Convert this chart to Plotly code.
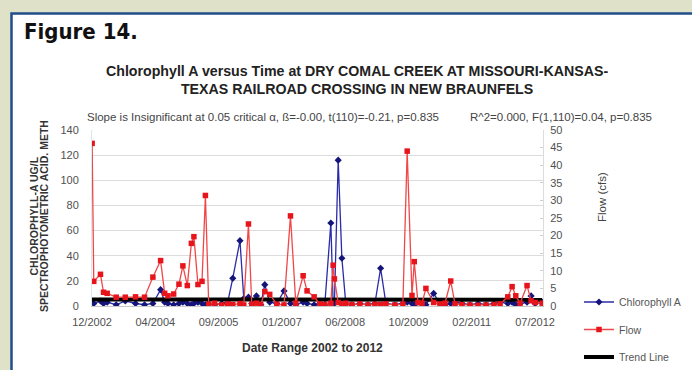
import plotly.graph_objects as go

# ---------------- data ----------------
sample_dates = [
    "2002-12-02", "2002-12-15", "2003-02-06", "2003-03-02", "2003-03-31", "2003-06-10",
    "2003-08-21", "2003-11-10", "2004-01-20", "2004-03-26", "2004-05-26", "2004-06-27",
    "2004-07-23", "2004-09-06", "2004-10-18", "2004-11-18", "2004-12-23", "2005-01-24",
    "2005-02-13", "2005-03-17", "2005-04-18", "2005-05-15", "2005-06-10", "2005-07-27",
    "2005-09-21", "2005-11-07", "2005-12-17", "2006-02-12", "2006-03-14", "2006-04-20",
    "2006-05-16", "2006-06-22", "2006-07-26", "2006-08-27", "2006-10-05", "2006-11-30",
    "2007-01-26", "2007-03-18", "2007-04-29", "2007-06-26", "2007-07-27", "2007-09-21",
    "2007-11-05", "2007-12-14", "2008-01-31", "2008-02-18", "2008-02-28", "2008-03-29",
    "2008-04-27", "2008-05-28", "2008-07-15", "2008-09-16", "2008-11-19", "2009-01-13",
    "2009-02-27", "2009-04-10", "2009-06-20", "2009-08-22", "2009-09-25", "2009-11-02",
    "2009-11-20", "2009-12-19", "2010-01-20", "2010-02-20", "2010-04-22", "2010-06-11",
    "2010-07-21", "2010-09-04", "2010-10-08", "2010-12-02", "2011-02-03", "2011-04-08",
    "2011-06-10", "2011-08-12", "2011-09-29", "2011-11-29", "2012-01-02", "2012-01-31",
    "2012-03-05", "2012-04-29", "2012-05-31", "2012-07-02", "2012-08-26",
]
chlorophyll_a = [
    3, 2, 4, 2, 3, 1,
    4, 2, 1, 2, 13, 3,
    2, 1, 2, 3, 2, 1,
    2, 3, 2, 1, 2, 1,
    2, 3, 22, 52, 6, 7,
    2, 8, 1, 17, 3, 2,
    12, 2, 1, 3, 2, 1,
    2, 1, 66, 3, 2, 116,
    38, 2, 1, 2, 1, 2,
    30, 2, 1, 2, 3, 2,
    1, 3, 2, 1, 10, 2,
    1, 2, 3, 2, 1, 2,
    1, 2, 3, 2, 3, 1,
    2, 3, 8, 2, 3,
]
flow_cfs = [
    46.2, 7.0, 9.0, 3.9, 3.6, 2.5,
    2.5, 2.6, 2.5, 8.2, 12.9, 3.6,
    2.9, 3.4, 6.2, 11.4, 5.8, 17.8,
    19.7, 6.1, 7.0, 31.4, 0.5, 0.8,
    0.3, 0.6, 0.4, 0.7, 0.3, 23.3,
    0.5, 0.8, 0.4, 4.1, 3.3, 0.5,
    0.3, 25.6, 0.8, 8.6, 4.3, 2.6,
    0.6, 0.4, 0.8, 11.6, 7.7, 1.0,
    0.5, 0.8, 0.4, 0.6, 0.3, 0.5,
    0.4, 0.6, 0.3, 0.5, 44.0, 3.0,
    12.6, 1.0, 0.8, 5.0, 1.0, 0.6,
    0.8, 7.1, 0.6, 0.4, 0.3, 0.2,
    0.3, 0.4, 0.6, 2.6, 5.5, 2.9,
    0.8, 5.8, 1.5, 1.0, 0.8,
]
trend_dates = ["2002-12-01", "2012-08-26"]
trend_values = [5.2, 5.0]

x_tick_dates = ["2002-12-01", "2004-04-14", "2005-08-27", "2007-01-09",
                "2008-05-23", "2009-10-05", "2011-02-17", "2012-07-01"]
x_tick_labels = ["12/2002", "04/2004", "09/2005", "01/2007",
                 "06/2008", "10/2009", "02/2011", "07/2012"]
x_range = ["2002-12-01", "2012-09-02"]
left_range = [0, 140]
right_range = [0, 50]

title_text = ("Chlorophyll A versus Time at DRY COMAL CREEK AT MISSOURI-KANSAS-<br>"
              "TEXAS RAILROAD CROSSING IN NEW BRAUNFELS")
slope_text = "Slope is Insignificant at 0.05 critical \u03b1, \u00df=-0.00, t(110)=-0.21, p=0.835"
r2_text = "R^2=0.000, F(1,110)=0.04, p=0.835"
y_title_line1 = "CHLOROPHYLL-A UG/L"
y_title_line2 = "SPECTROPHOTOMETRIC ACID. METH"
y2_title = "Flow (cfs)"
x_title = "Date Range 2002 to 2012"
figure_label = "Figure 14."

# ---------------- layout helpers ----------------
W, H = 692, 370
L, R, T, B = 92, 543, 130, 306   # plot area in pixels


def xp(px):
    return (px - L) / (R - L)


def yp(py):
    return (B - py) / (B - T)


FONT = "Liberation Sans, Arial, sans-serif"
TICK = dict(size=11, color="#505050")

fig = go.Figure()

fig.add_trace(go.Scatter(
    x=sample_dates, y=chlorophyll_a, name="Chlorophyll A", mode="lines+markers",
    line=dict(color="#2b2ba8", width=1.3),
    marker=dict(symbol="diamond", size=5.5, color="#14147a"),
    legendgroup="a", legendrank=1,
))
fig.add_trace(go.Scatter(
    x=sample_dates, y=flow_cfs, name="Flow", mode="lines+markers", yaxis="y2",
    line=dict(color="#f04848", width=1.3),
    marker=dict(symbol="square", size=5.5, color="#e8141c"),
    legendgroup="b", legendrank=2,
))
fig.add_trace(go.Scatter(
    x=trend_dates, y=trend_values, name="Trend Line", mode="lines",
    line=dict(color="#000000", width=4),
    legendgroup="c", legendrank=3,
))


def note(text, x, y, size, bold=False, color="#3a3a3a", xanchor="left", angle=0, family=None):
    f = dict(size=size, color=color)
    if family:
        f["family"] = family
    return dict(text=("<b>" + text + "</b>") if bold else text, xref="paper", yref="paper",
                x=xp(x), y=yp(y), xanchor=xanchor, yanchor="middle", showarrow=False,
                textangle=angle, font=f, align="center")


fig.update_layout(
    width=W, height=H,
    margin=dict(l=L, r=W - R, t=T, b=H - B, pad=0, autoexpand=False),
    paper_bgcolor="#dfe2c8",
    plot_bgcolor="rgba(0,0,0,0)",
    font=dict(family=FONT, size=11, color="#3a3a3a"),
    showlegend=True,
    legend=dict(
        x=xp(579), y=yp(287.5), xanchor="left", yanchor="top",
        font=dict(size=10.5, color="#555555"),
        bgcolor="rgba(0,0,0,0)", tracegroupgap=8.5, itemwidth=30,
        traceorder="grouped",
    ),
    xaxis=dict(
        type="date", range=x_range, tickvals=x_tick_dates, ticktext=x_tick_labels,
        showgrid=False, showline=True, linecolor="#c8c8c8", ticks="",
        ticklabelstandoff=6, tickfont=TICK, zeroline=False,
    ),
    yaxis=dict(
        range=left_range, dtick=20, showgrid=True, gridcolor="#dcdcdc", gridwidth=1,
        showline=True, linecolor="#d8e8ec", ticks="", ticklabelstandoff=10,
        tickfont=TICK, zeroline=False,
    ),
    yaxis2=dict(
        range=right_range, dtick=5, overlaying="y", side="right", showgrid=False,
        showline=True, linecolor="#dcdcdc", ticks="inside", ticklen=3, tickcolor="#cfcfcf",
        ticklabelstandoff=4, tickfont=TICK, zeroline=False,
    ),
    shapes=[dict(
        type="rect", xref="paper", yref="paper", layer="below",
        x0=xp(11.5), x1=xp(720), y0=yp(395), y1=yp(13.5),
        fillcolor="#ffffff", line=dict(color="#1f4e89", width=2.5),
    )],
    annotations=[
        note(figure_label, 22, 32, 22, bold=True, color="#111111",
             family="DejaVu Sans Condensed, Liberation Sans Narrow, sans-serif"),
        note(title_text, 357, 79.5, 14.2, bold=True, color="#222222", xanchor="center"),
        note(slope_text, 85, 117, 11.5, color="#444444"),
        note(r2_text, 468, 117, 11.5, color="#444444"),
        note(y_title_line1, 33.5, 216, 10.5, bold=True, color="#333333", xanchor="center", angle=-90),
        note(y_title_line2, 44, 216, 10.5, bold=True, color="#333333", xanchor="center", angle=-90),
        note(y2_title, 602, 197, 11.5, color="#444444", xanchor="center", angle=-90),
        note(x_title, 312, 348, 12, bold=True, color="#333333", xanchor="center"),
    ],
)

fig.write_html("out.html", config={"displayModeBar": False},
               post_script="document.body.style.margin='0px';")
